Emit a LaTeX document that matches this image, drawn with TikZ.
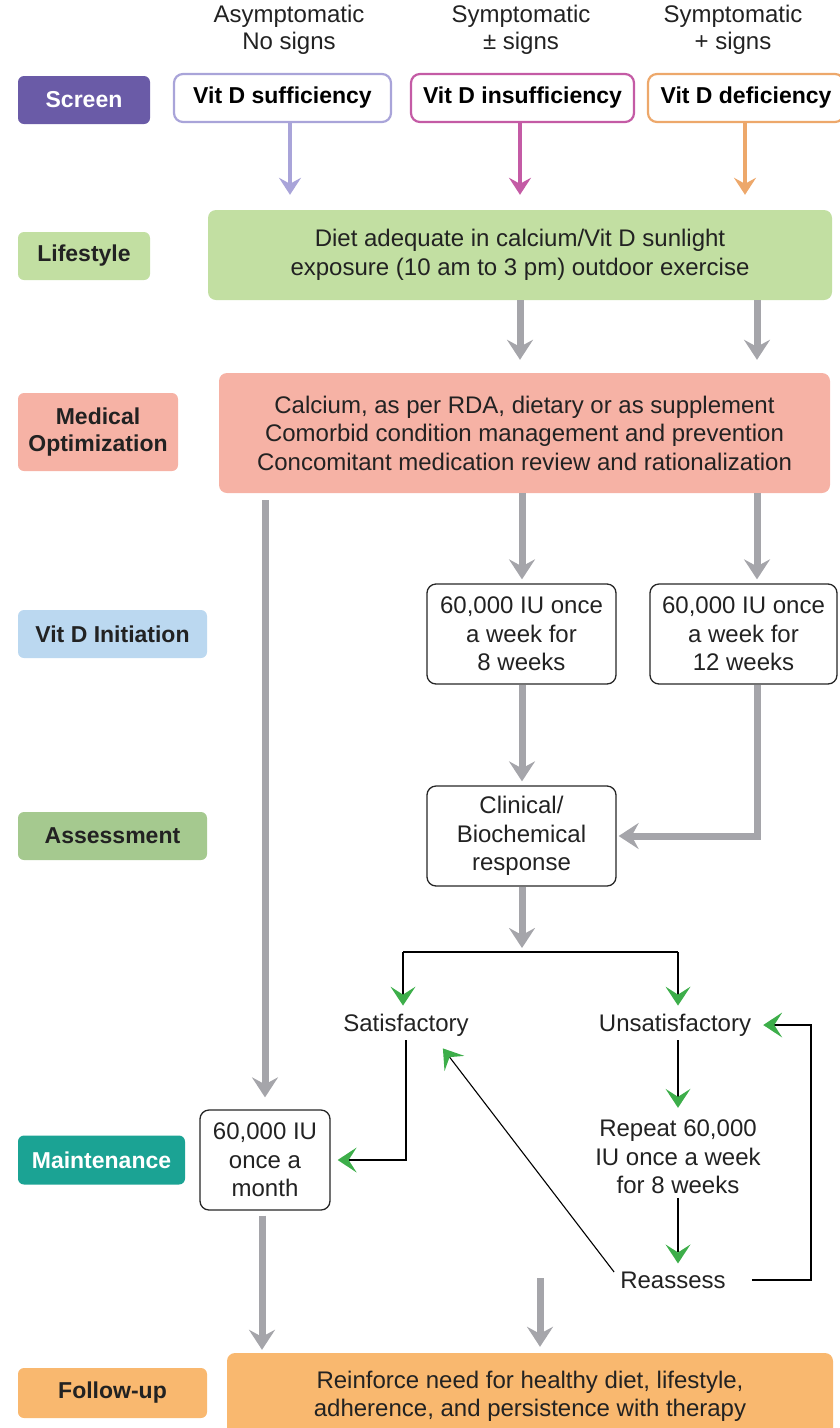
\documentclass[tikz,border=0pt]{standalone}
\usepackage{fontspec}
\setmainfont{Liberation Sans}
\usetikzlibrary{arrows.meta,calc}
\definecolor{scrc}{HTML}{6A5BA7}
\definecolor{lifec}{HTML}{C2DFA2}
\definecolor{medc}{HTML}{F6B2A5}
\definecolor{initc}{HTML}{BBD8F0}
\definecolor{assc}{HTML}{A5C98F}
\definecolor{mainc}{HTML}{1BA394}
\definecolor{fupc}{HTML}{F9B86F}
\definecolor{greyc}{HTML}{A5A5AA}
\definecolor{greenc}{HTML}{3DAE4A}
\definecolor{sufc}{HTML}{A9A4D9}
\definecolor{insc}{HTML}{C45BA5}
\definecolor{defc}{HTML}{EDA86B}
\definecolor{txtc}{HTML}{222222}
\begin{document}
\begin{tikzpicture}[x=1pt,y=-1pt,
  every node/.style={text=txtc},
  norm/.style={font=\fontsize{24}{28.5}\selectfont, align=center},
  hdr/.style={norm, font=\fontsize{24}{27}\selectfont},
  lab/.style={rounded corners=6pt, font=\bfseries\fontsize{23}{27}\selectfont, align=center, inner sep=0pt},
  sbox/.style={rounded corners=9pt, line width=2.2pt, fill=white, font=\bfseries\fontsize{23}{27}\selectfont, inner sep=0pt, minimum height=48pt, text=black},
  bigbox/.style={norm, rounded corners=8pt, inner sep=0pt},
  wbox/.style={norm, draw=black!85, line width=1.3pt, rounded corners=9pt, inner sep=0pt},
  tx/.style={norm, inner sep=4pt},
  parrow/.style={line width=4pt, -{Stealth[length=17pt,width=22pt,inset=6pt]}},
  garrow/.style={draw=greyc, line width=7pt, -{Stealth[length=20pt,width=26pt,inset=7pt]}},
  garr/.style={draw=black, line width=1.1pt, -{Stealth[length=19pt,width=25pt,inset=8pt,color=greenc,line width=0pt]}},
  blk/.style={draw=black, line width=1.1pt}
]
\useasboundingbox (0,0) rectangle (839,1428);

% headers
\node[hdr] (h1) at (289,30) {Asymptomatic\\No signs};
\node[hdr] (h2) at (521,30) {Symptomatic\\± signs};
\node[hdr] (h3) at (733,30) {Symptomatic\\+ signs};

% left labels
\node[lab, fill=scrc, text=white, minimum width=132pt, minimum height=48pt] (lscreen) at (84,100) {Screen};
\node[lab, fill=lifec, minimum width=132pt, minimum height=48pt] (llife) at (84,256) {Lifestyle};
\node[lab, fill=medc, minimum width=160pt, minimum height=78pt] (lmed) at (98,432) {Medical\\Optimization};
\node[lab, fill=initc, minimum width=189pt, minimum height=48pt] (linit) at (112.5,634) {Vit D Initiation};
\node[lab, fill=assc, minimum width=189pt, minimum height=48pt] (lass) at (112.5,836) {Assessment};
\node[lab, fill=mainc, text=white, minimum width=167pt, minimum height=49pt] (lmain) at (101.5,1160) {Maintenance};
\node[lab, fill=fupc, minimum width=189pt, minimum height=50pt] (lfup) at (112.5,1393) {Follow-up};

% screen boxes
\node[sbox, draw=sufc, minimum width=217pt] (suf) at (282.5,98) {Vit D sufficiency};
\node[sbox, draw=insc, minimum width=223pt] (ins) at (522.5,98) {Vit D insufficiency};
\node[sbox, draw=defc, minimum width=196pt] (def) at (746,98) {Vit D deficiency};

% big boxes
\node[bigbox, fill=lifec, minimum width=624pt, minimum height=90pt] (life) at (520,255)
  {Diet adequate in calcium/Vit D sunlight\\exposure (10 am to 3 pm) outdoor exercise};
\node[bigbox, fill=medc, minimum width=611pt, minimum height=120pt] (med) at (524.5,433)
  {Calcium, as per RDA, dietary or as supplement\\Comorbid condition management and prevention\\Concomitant medication review and rationalization};
\node[bigbox, fill=fupc, minimum width=606pt, minimum height=87pt] (fup) at (530,1396.5)
  {Reinforce need for healthy diet, lifestyle,\\adherence, and persistence with therapy};

% white boxes
\node[wbox, minimum width=189pt, minimum height=100pt] (w8) at (521.5,634) {60,000 IU once\\a week for\\8 weeks};
\node[wbox, minimum width=187pt, minimum height=100pt] (w12) at (743.5,634) {60,000 IU once\\a week for\\12 weeks};
\node[wbox, minimum width=189pt, minimum height=100pt] (clin) at (521.5,836) {Clinical/\\Biochemical\\response};
\node[wbox, minimum width=130pt, minimum height=100pt] (maint) at (265,1160) {60,000 IU\\once a\\month};

% plain texts
\node[tx] (sat) at (406,1025) {Satisfactory};
\node[tx] (unsat) at (675,1025) {Unsatisfactory};
\node[tx] (rep) at (678,1157) {Repeat 60,000\\IU once a week\\for 8 weeks};
\node[tx] (reas) at (673,1280) {Reassess};

% columns
\coordinate (cA) at (290,0);
\coordinate (cB) at (520,0);
\coordinate (cC) at (745,0);
\coordinate (cD) at (757,0);
\coordinate (cE) at (522,0);
\coordinate (cM) at (265,0);
\coordinate (cF) at (262,0);
\coordinate (cS) at (406,0);
\coordinate (cU) at (678,0);
\coordinate (cR) at (811,0);
\coordinate (split) at (522,952);
\coordinate (bl) at (403,952);
\coordinate (br) at (678,952);
\coordinate (gstart) at (540,1278);

% screen arrows
\draw[parrow, draw=sufc, shorten >=15pt] (suf.south -| cA) -- (life.north -| cA);
\draw[parrow, draw=insc, shorten >=15pt] (ins.south -| cB) -- (life.north -| cB);
\draw[parrow, draw=defc, shorten >=15pt] (def.south -| cC) -- (life.north -| cC);

% grey arrows
\draw[garrow, shorten >=13pt] (life.south -| cB) -- (med.north -| cB);
\draw[garrow, shorten >=13pt] (life.south -| cD) -- (med.north -| cD);
\draw[garrow, shorten >=4pt] (med.south -| cE) -- (w8.north -| cE);
\draw[garrow, shorten >=4pt] (med.south -| cD) -- (w12.north -| cD);
\draw[garrow, shorten <=7pt, shorten >=12pt] (med.south -| cM) -- (maint.north -| cM);
\draw[garrow, shorten >=4pt] (w8.south -| cE) -- (clin.north -| cE);
\draw[garrow, shorten >=2pt] (w12.south -| cD) |- (clin.east);
\draw[garrow, shorten >=4pt] (clin.south -| cE) -- (split);
\draw[garrow, shorten <=5pt, shorten >=3pt] (maint.south -| cF) -- (fup.north -| cF);
\draw[garrow, shorten >=6pt] (gstart) -- (fup.north -| gstart);

% assessment branches
\draw[blk] (bl) -- (br);
\draw[garr, shorten >=4pt] (bl) -- (bl |- sat.north);
\draw[garr, shorten >=4pt] (br) -- (br |- unsat.north);
\draw[garr, shorten >=7pt] (sat.south -| cS) |- (maint.east);
\draw[garr, shorten >=8pt] (unsat.south -| cU) -- (rep.north -| cU);
\draw[garr, shorten >=4pt] (rep.south -| cU) -- (reas.north -| cU);
\draw[garr] ($(reas.west)+(-2,-8)$) -- ($(sat.south east)+(-30,8)$);
\draw[garr, shorten <=22pt, shorten >=8pt] (reas.east) -- (reas.east -| cR) |- (unsat.east);
\end{tikzpicture}
\end{document}
